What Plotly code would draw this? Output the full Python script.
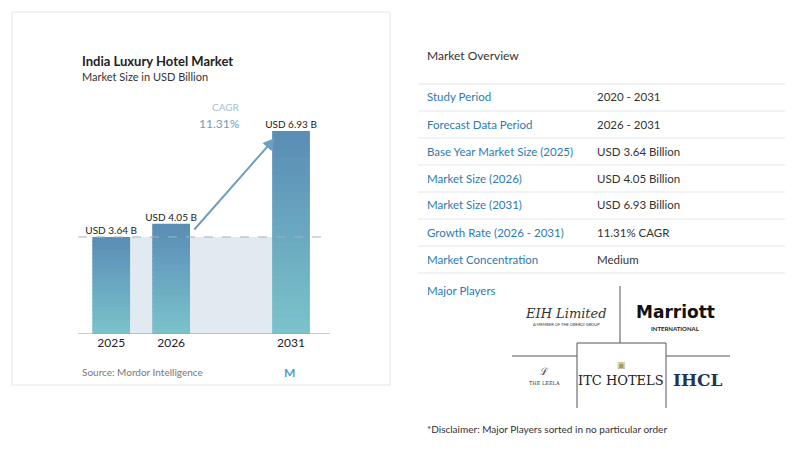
import plotly.graph_objects as go

years = ["2025", "2026", "2031"]
values = [3.64, 4.05, 6.93]
xpos = [0, 1, 3]
labels = ["USD 3.64 B", "USD 4.05 B", "USD 6.93 B"]
cagr = "11.31%"
rows = ["Study Period", "Forecast Data Period", "Base Year Market Size (2025)",
        "Market Size (2026)", "Market Size (2031)", "Growth Rate (2026 - 2031)",
        "Market Concentration"]
row_vals = ["2020 - 2031", "2026 - 2031", "USD 3.64 Billion", "USD 4.05 Billion",
            "USD 6.93 Billion", "11.31% CAGR", "Medium"]

OFF = 8
W, H = 800 - OFF, 459 - OFF
def px(x): return (x - OFF) / W
def py(y): return 1 - (y - OFF) / H

ymin = 0.63
fig = go.Figure()

N = 24
top = (90, 141, 181); bot = (124, 196, 204)
for i in range(N):
    f = (i + 0.5) / N
    c = tuple(int(bot[k] + (top[k] - bot[k]) * f) for k in range(3))
    ov = 0 if i == 0 else 0.03
    fig.add_trace(go.Bar(
        x=xpos, y=[(v - ymin) / N + ov for v in values],
        base=[ymin + (v - ymin) * i / N - ov for v in values],
        width=0.63, marker=dict(color="rgb(%d,%d,%d)" % c, line=dict(width=0)),
        hoverinfo="skip", showlegend=False))

fig.update_layout(barmode="overlay")
fig.add_trace(go.Scatter(x=xpos, y=values, mode="text", text=labels, textposition="top center",
                         textfont=dict(size=10, color="#222", family="Lato"), showlegend=False))

shapes = []
shapes.append(dict(type="rect", xref="paper", yref="paper", x0=px(12), x1=px(390), y0=py(385), y1=py(12),
                   line=dict(color="#e3e6ea", width=1), fillcolor="white", layer="below"))
shapes.append(dict(type="rect", xref="x", yref="y", x0=0, x1=3, y0=ymin, y1=values[0],
                   fillcolor="#e1e9f1", line=dict(width=0), layer="below"))
shapes.append(dict(type="line", xref="paper", yref="y", x0=px(78), x1=px(330), y0=values[0], y1=values[0],
                   line=dict(color="#9fb3c3", width=1, dash="dash")))
shapes.append(dict(type="line", xref="paper", yref="y", x0=px(78), x1=px(330), y0=ymin, y1=ymin,
                   line=dict(color="#999", width=1)))
for i in range(len(rows) + 1):
    y = 84 + 27 * i
    shapes.append(dict(type="line", xref="paper", yref="paper", x0=px(418), x1=px(785), y0=py(y), y1=py(y),
                       line=dict(color="#e3e5e8", width=1)))
for (x0, y0, x1, y1) in [(620, 286, 620, 343), (512, 356, 577, 356), (666, 356, 730, 356),
                         (577, 343, 666, 343), (577, 343, 577, 408), (666, 343, 666, 408)]:
    shapes.append(dict(type="line", xref="paper", yref="paper", x0=px(x0), x1=px(x1), y0=py(y0), y1=py(y1),
                       line=dict(color="#555", width=1)))

ann = []
def t(x, y, s, size=11, color="#333", anchor="left", fam="Lato", **kw):
    ann.append(dict(xref="paper", yref="paper", x=px(x), y=py(y), text=s, showarrow=False,
                    xanchor=anchor, yanchor="middle", font=dict(size=size, color=color, family=fam), **kw))

t(80, 61, "<b>India Luxury Hotel Market</b>", 13, "#222")
t(80, 77, "Market Size in USD Billion", 11, "#333")
t(80, 372, "Source: Mordor Intelligence", 10, "#777")
t(289, 372, "<b>M</b>", 12, "#4aa3c4", "center")
t(242, 107, "CAGR", 10, "#a9bfd0", "right")
t(242, 123, cagr, 12, "#6e9ec0", "right")
ann.append(dict(xref="paper", yref="paper", x=px(275), y=py(138), ax=-82, ay=93,
                showarrow=True, arrowhead=2, arrowsize=1.2,
                arrowwidth=2, arrowcolor="#6e9ec0", text=""))
t(425, 55, "Market Overview", 12, "#333")
for i, (r, v) in enumerate(zip(rows, row_vals)):
    y = 97 + 27 * i
    t(425, y, r, 11.5, "#2b7bb3")
    t(595, y, v, 11.5, "#333")
t(425, 290, "Major Players", 11.5, "#2b7bb3")
t(566, 313, "<i>EIH Limited</i>", 13, "#333", "center", "DejaVu Serif")
t(566, 324, "A MEMBER OF THE OBEROI GROUP", 4, "#333", "center")
t(675, 312, "<b>Marriott</b>", 17, "#111", "center", "DejaVu Sans")
t(675, 328, "<b>INTERNATIONAL</b>", 6, "#222", "center")
t(544, 383, "THE LEELA", 5, "#333", "center", "DejaVu Serif")
t(544, 371, "ℒ", 10, "#444", "center", "DejaVu Serif")
t(621, 364, "▣", 9, "#a89a5a", "center")
t(621, 380, "ITC HOTELS", 13, "#222", "center", "DejaVu Serif")
t(698, 380, "<b>IHCL</b>", 17, "#1f3550", "center", "DejaVu Serif")
t(425, 429, "*Disclaimer: Major Players sorted in no particular order", 10, "#333")

fig.update_layout(
    width=W, height=H, margin=dict(l=0, r=0, t=0, b=0),
    paper_bgcolor="white", plot_bgcolor="rgba(0,0,0,0)",
    shapes=shapes, annotations=ann,
    xaxis=dict(domain=[px(80), px(330)], range=[-0.52, 3.65], tickvals=xpos, ticktext=years,
               showgrid=False, zeroline=False, ticks="", tickfont=dict(size=12, color="#222", family="Lato")),
    yaxis=dict(domain=[py(334), py(100)], range=[ymin, 7.89], visible=False),
)
fig.write_html("out.html")
